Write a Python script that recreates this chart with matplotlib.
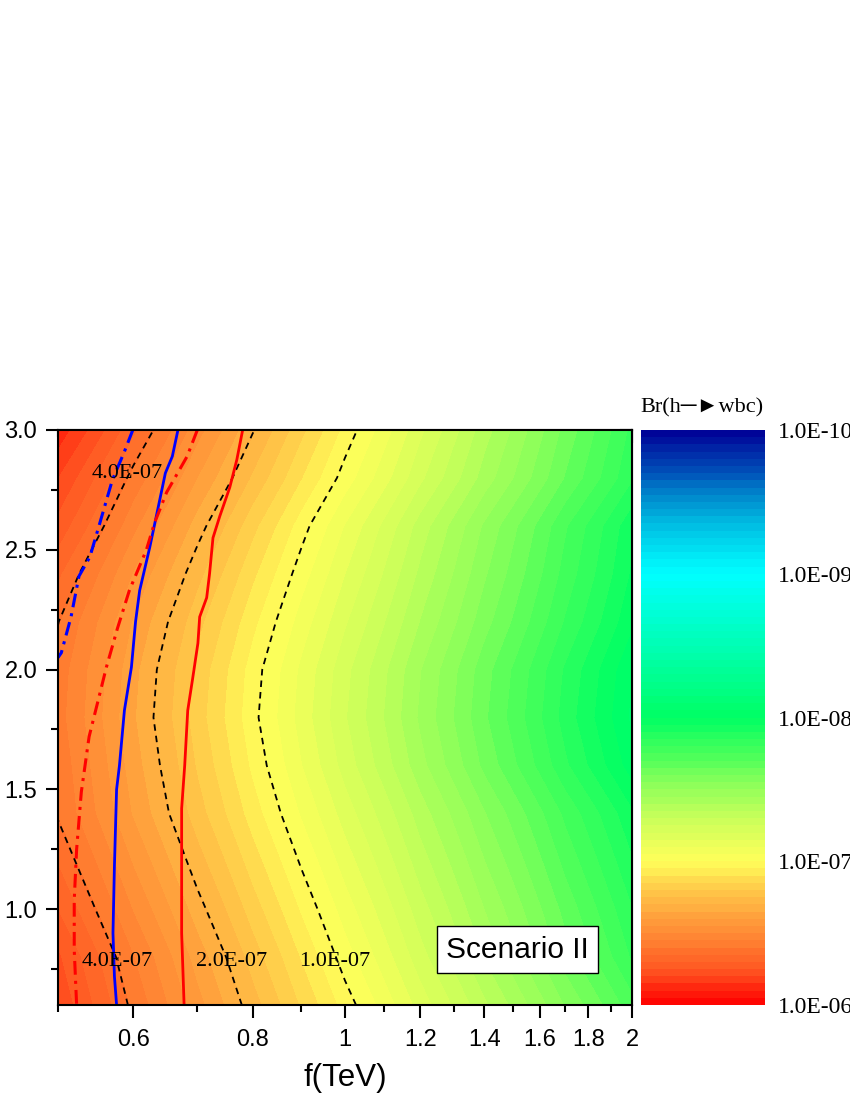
import numpy as np
import matplotlib
matplotlib.use("Agg")
import matplotlib.pyplot as plt
from matplotlib.colors import LinearSegmentedColormap
from matplotlib.ticker import FixedLocator, NullFormatter

plt.rcParams['font.family'] = ['Liberation Sans', 'DejaVu Sans']
SERIF = ['Liberation Serif', 'DejaVu Serif']

# ----- data -----
# log10 Br(h -> wbc) on a (y, f) grid
f_grid = [0.5, 0.6, 0.7, 0.8, 0.9, 1.0, 1.2, 1.4, 1.7, 2.0]
y_grid = [0.6, 0.8, 1.0, 1.2, 1.4, 1.6, 1.8, 2.0, 2.2, 2.4, 2.6, 2.8, 3.0]
log_br = [
    [-6.214, -6.414, -6.583, -6.729, -6.858, -6.973, -7.173, -7.341, -7.554, -7.732],
    [-6.243, -6.449, -6.623, -6.774, -6.906, -7.026, -7.231, -7.405, -7.625, -7.808],
    [-6.302, -6.505, -6.677, -6.826, -6.958, -7.075, -7.279, -7.451, -7.667, -7.849],
    [-6.355, -6.557, -6.729, -6.877, -7.008, -7.125, -7.328, -7.499, -7.715, -7.896],
    [-6.405, -6.607, -6.778, -6.926, -7.057, -7.174, -7.376, -7.547, -7.762, -7.943],
    [-6.416, -6.628, -6.807, -6.962, -7.099, -7.222, -7.434, -7.614, -7.840, -8.029],
    [-6.431, -6.645, -6.827, -6.984, -7.122, -7.246, -7.461, -7.642, -7.871, -8.062],
    [-6.423, -6.636, -6.817, -6.974, -7.112, -7.235, -7.449, -7.630, -7.857, -8.048],
    [-6.396, -6.606, -6.784, -6.937, -7.073, -7.194, -7.404, -7.581, -7.805, -7.992],
    [-6.342, -6.555, -6.734, -6.890, -7.027, -7.150, -7.363, -7.543, -7.769, -7.959],
    [-6.269, -6.488, -6.674, -6.835, -6.977, -7.104, -7.324, -7.509, -7.743, -7.939],
    [-6.202, -6.418, -6.601, -6.759, -6.899, -7.024, -7.240, -7.423, -7.653, -7.845],
    [-6.119, -6.342, -6.531, -6.694, -6.838, -6.967, -7.190, -7.379, -7.616, -7.815],
]

contour_values = [1e-7, 2e-7, 4e-7]
contour_labels = ["1.0E-07", "2.0E-07", "4.0E-07", "4.0E-07"]
label_f = [0.976, 0.761, 0.577, 0.591]
label_y = [0.78, 0.78, 0.78, 2.82]

# constraint curves (f in TeV vs y)
blue_solid_y = [3.0, 2.89, 2.82, 2.64, 2.51, 2.33, 2.20, 2.01, 1.83, 1.60, 1.50, 1.18, 0.90, 0.72, 0.6]
blue_solid_f = [0.668, 0.659, 0.648, 0.634, 0.624, 0.609, 0.603, 0.597, 0.587, 0.580, 0.576, 0.573, 0.571, 0.573, 0.576]

blue_dashdot_y = [3.0, 2.91, 2.79, 2.61, 2.47, 2.39, 2.22, 2.07, 2.05]
blue_dashdot_f = [0.599, 0.587, 0.570, 0.553, 0.540, 0.526, 0.516, 0.504, 0.500]

red_solid_y = [3.0, 2.875, 2.76, 2.64, 2.55, 2.40, 2.30, 2.22, 2.11, 1.96, 1.83, 1.60, 1.42, 1.18, 0.90, 0.6]
red_solid_f = [0.781, 0.770, 0.757, 0.739, 0.727, 0.721, 0.716, 0.704, 0.701, 0.692, 0.684, 0.679, 0.674, 0.674, 0.674, 0.678]

red_dashdot_y = [3.0, 2.89, 2.74, 2.61, 2.50, 2.33, 2.17, 2.01, 1.86, 1.72, 1.49, 1.25, 1.04, 0.83, 0.6]
red_dashdot_f = [0.700, 0.683, 0.650, 0.631, 0.619, 0.594, 0.577, 0.562, 0.550, 0.539, 0.529, 0.523, 0.520, 0.520, 0.523]

x_major = [0.6, 0.8, 1.0, 1.2, 1.4, 1.6, 1.8, 2.0]
x_major_labels = ["0.6", "0.8", "1", "1.2", "1.4", "1.6", "1.8", "2"]
x_minor = [0.5, 0.7, 0.9, 1.1, 1.3, 1.5, 1.7, 1.9]
y_major = [1.0, 1.5, 2.0, 2.5, 3.0]
y_minor = [0.75, 1.25, 1.75, 2.25, 2.75]

cbar_ticks = [-10, -9, -8, -7, -6]
cbar_labels = ["1.0E-10", "1.0E-09", "1.0E-08", "1.0E-07", "1.0E-06"]

# colour map anchors (log10 value -> colour), Origin-like rainbow
cmap_vals = [-10, -9.75, -9.5, -9.25, -9, -8.5, -8, -7.75, -7.5, -7.25, -7, -6.75, -6.5, -6.25, -6]
cmap_cols = ["#000096", "#0046b4", "#0096d2", "#00d2ec", "#00ffff", "#00ffb4", "#00ff64",
             "#46ff5a", "#96ff5a", "#d2ff5a", "#ffff5a", "#ffbe46", "#ff8c36", "#ff5a23", "#ff0000"]

# ----- plot -----
pos = [(v - cmap_vals[0]) / (cmap_vals[-1] - cmap_vals[0]) for v in cmap_vals]
cmap = LinearSegmentedColormap.from_list("origin", list(zip(pos, cmap_cols)))

fig = plt.figure(figsize=(8.5, 11), dpi=100)
ax = fig.add_axes([58 / 850, 1 - 1005 / 1100, 574 / 850, 575 / 1100])
cax = fig.add_axes([641 / 850, 1 - 1005 / 1100, 124 / 850, 575 / 1100])

F, Y = np.meshgrid(f_grid, y_grid)
Z = np.array(log_br)
levels = np.linspace(-10, -6, 81)
cf = ax.contourf(F, Y, Z, levels=levels, cmap=cmap)
ax.contour(F, Y, Z, levels=np.log10(contour_values), colors="black",
           linewidths=1.3, linestyles=[(0, (3.6, 2.8))])

ax.plot(blue_solid_f, blue_solid_y, color="#0000ff", lw=2.0)
ax.plot(blue_dashdot_f, blue_dashdot_y, color="#0000ff", lw=2.2, ls=(0, (4.5, 2, 1, 2)))
ax.plot(red_solid_f, red_solid_y, color="#ff0000", lw=2.0)
ax.plot(red_dashdot_f, red_dashdot_y, color="#ff0000", lw=2.2, ls=(0, (4.5, 2, 1, 2)))

for txt, xf, yy in zip(contour_labels, label_f, label_y):
    ax.text(xf, yy, txt, family=SERIF, fontsize=16, ha="center", va="center")

ax.text(1.517, 0.831, "Scenario II", fontsize=21.5, ha="center", va="center",
        bbox=dict(boxstyle="square,pad=0.32", fc="white", ec="black", lw=1.0))

ax.set_xscale("log")
ax.set_xlim(0.5, 2.0)
ax.set_ylim(0.6, 3.0)
ax.xaxis.set_major_locator(FixedLocator(x_major))
ax.xaxis.set_minor_locator(FixedLocator(x_minor))
ax.set_xticklabels(x_major_labels)
ax.xaxis.set_minor_formatter(NullFormatter())
ax.yaxis.set_major_locator(FixedLocator(y_major))
ax.yaxis.set_minor_locator(FixedLocator(y_minor))
ax.set_yticklabels([f"{v:.1f}" for v in y_major])
ax.tick_params(which="major", direction="out", length=9, width=1.5, labelsize=17, pad=6)
ax.tick_params(which="minor", direction="out", length=5, width=1.5)
ax.tick_params(axis="x", which="major", pad=8)
for sp in ax.spines.values():
    sp.set_linewidth(1.5)
ax.set_xlabel("f(TeV)", fontsize=22.5, labelpad=9)

top = ax.secondary_xaxis("top")
top.xaxis.set_major_locator(FixedLocator(x_major))
top.xaxis.set_minor_locator(FixedLocator(x_minor))
top.xaxis.set_major_formatter(NullFormatter())
top.xaxis.set_minor_formatter(NullFormatter())
top.tick_params(which="major", direction="in", length=9, width=1.5)
top.tick_params(which="minor", direction="in", length=5, width=1.5)
top.spines["top"].set_linewidth(1.5)

right = ax.secondary_yaxis("right")
right.yaxis.set_major_locator(FixedLocator(y_major))
right.yaxis.set_minor_locator(FixedLocator(y_minor))
right.yaxis.set_major_formatter(NullFormatter())
right.yaxis.set_minor_formatter(NullFormatter())
right.tick_params(which="major", direction="in", length=9, width=1.5)
right.tick_params(which="minor", direction="in", length=5, width=1.5)
right.spines["right"].set_linewidth(1.5)

cb = fig.colorbar(cf, cax=cax)
cb.outline.set_visible(False)
cax.invert_yaxis()
cb.set_ticks(cbar_ticks)
cb.set_ticklabels(cbar_labels)
cax.tick_params(length=0, pad=9)
for lab in cax.get_yticklabels():
    lab.set_family(SERIF)
    lab.set_fontsize(17)
fig.text(702 / 850, 1 - 408 / 1100, "Br(h\u2500\u25bawbc)", family=SERIF, fontsize=16,
         ha="center", va="center")

fig.savefig("out.png", dpi=100)
